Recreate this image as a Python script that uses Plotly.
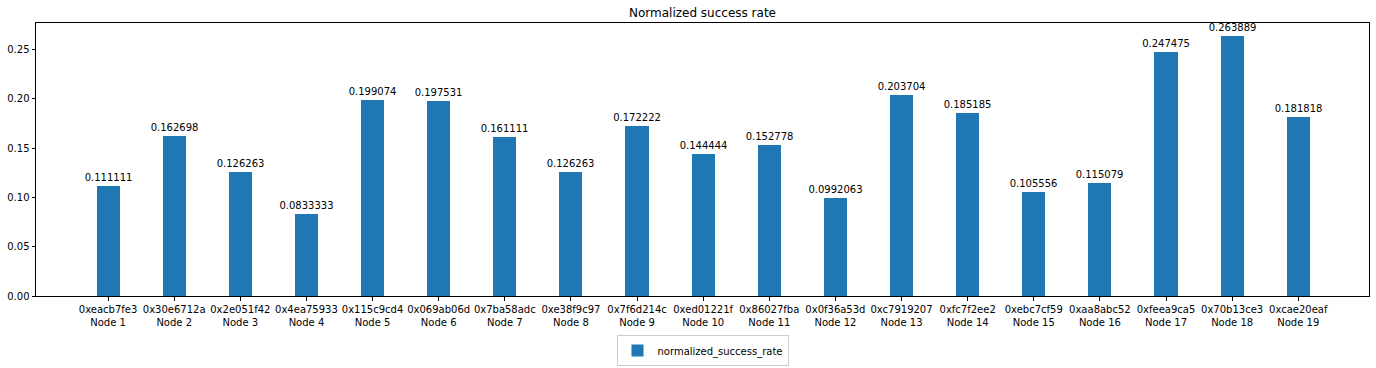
import plotly.graph_objects as go

addresses = ["0xeacb7fe3", "0x30e6712a", "0x2e051f42", "0x4ea75933", "0x115c9cd4",
             "0x069ab06d", "0x7ba58adc", "0xe38f9c97", "0x7f6d214c", "0xed01221f",
             "0x86027fba", "0x0f36a53d", "0xc7919207", "0xfc7f2ee2", "0xebc7cf59",
             "0xaa8abc52", "0xfeea9ca5", "0x70b13ce3", "0xcae20eaf"]
nodes = [f"Node {i}" for i in range(1, 20)]
values = [0.111111, 0.162698, 0.126263, 0.0833333, 0.199074, 0.197531, 0.161111,
          0.126263, 0.172222, 0.144444, 0.152778, 0.0992063, 0.203704, 0.185185,
          0.105556, 0.115079, 0.247475, 0.263889, 0.181818]
positions = list(range(1, 20))
tick_labels = [f"{a}<br>{n}" for a, n in zip(addresses, nodes)]
value_labels = [f"{v:g}" for v in values]

fig = go.Figure()
fig.add_trace(go.Bar(
    x=positions, y=values, width=0.35,
    marker=dict(color="#1f77b4", line=dict(width=0)),
    text=value_labels, textposition="outside", constraintext="none",
    textfont=dict(size=10, color="#000000", family="DejaVu Sans"),
    cliponaxis=False,
    name="normalized_success_rate", showlegend=True,
))

fig.update_layout(
    width=1376, height=368,
    margin=dict(l=36, r=7, t=23, b=72, autoexpand=False),
    paper_bgcolor="white", plot_bgcolor="white",
    font=dict(family="DejaVu Sans", size=10, color="#000000"),
    title=dict(text="Normalized success rate", xref="paper", x=0.5, xanchor="center",
               y=0.965, yanchor="middle",
               font=dict(size=12, family="DejaVu Sans", color="#000000")),
    showlegend=True,
    legend=dict(orientation="h", x=0.5, xanchor="center", y=-0.2, yanchor="middle",
                bordercolor="#cccccc", borderwidth=1, bgcolor="white",
                font=dict(size=10, family="DejaVu Sans")),
    bargap=0,
)
fig.update_xaxes(
    range=[-0.09, 20.07], tickmode="array", tickvals=positions, ticktext=tick_labels,
    showgrid=False, zeroline=False, automargin=False,
    showline=True, linecolor="#000000", linewidth=1, mirror=True,
    ticks="outside", ticklen=3.5, tickcolor="#000000", tickangle=0,
    tickfont=dict(size=10, family="DejaVu Sans", color="#000000"),
)
fig.update_yaxes(
    range=[0, 0.277], tickmode="array",
    tickvals=[0, 0.05, 0.10, 0.15, 0.20, 0.25],
    ticktext=["0.00", "0.05", "0.10", "0.15", "0.20", "0.25"],
    showgrid=False, zeroline=False, automargin=False,
    showline=True, linecolor="#000000", linewidth=1, mirror=True,
    ticks="outside", ticklen=3.5, tickcolor="#000000",
    tickfont=dict(size=10, family="DejaVu Sans", color="#000000"),
)

fig.write_html("out.html", config={"displayModeBar": False},
               post_script="document.body.style.margin='0';document.body.style.overflow='hidden';")
